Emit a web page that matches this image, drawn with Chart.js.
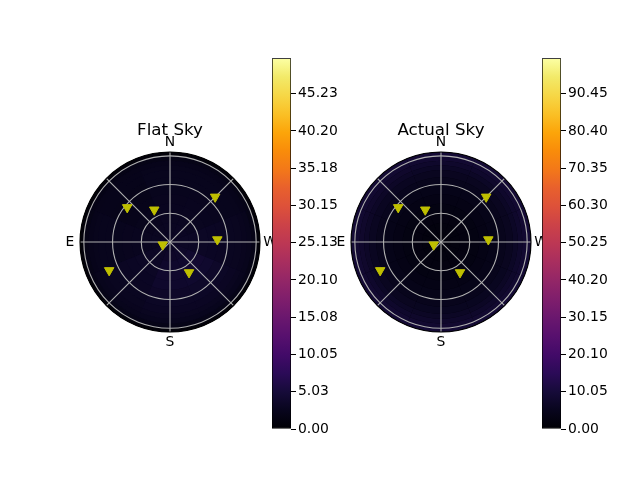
<!DOCTYPE html>
<html>
<head>
<meta charset="utf-8">
<script src="https://cdn.jsdelivr.net/npm/chart.js@4.4.1/dist/chart.umd.min.js"></script>
<style>
  body { margin: 0; background: #fff; }
  #wrap { position: relative; width: 640px; height: 480px; overflow: hidden; background: #fff; }
  canvas { position: absolute; }
</style>
</head>
<body>
<div id="wrap">
  <canvas id="flatSky" width="260" height="250" style="left:40px;top:100px"></canvas>
  <canvas id="actualSky" width="260" height="250" style="left:311px;top:100px"></canvas>
  <canvas id="flatBar" width="79" height="392" style="left:272px;top:48px"></canvas>
  <canvas id="actualBar" width="79" height="392" style="left:542px;top:48px"></canvas>
</div>
<script>
// sky layout: zenith angle rings, compass labels
const zenithMax = 94
const ringTicks = [30, 60, 90]
const compassLabels = ['N', 'E', 'S', 'W']
const compassAz = [0, 90, 180, 270]

// stars (azimuth from N toward E, zenith angle)
const starAz = [51, 26, 315, 273, 110, 115, 212]
const starZenith = [57.5, 37.5, 66.7, 49.5, 8.1, 70.1, 37.5]

// heatmap cells: zenith bin edges x 8 azimuth sectors (N, NE, E, SE, S, SW, W, NW)
const zenithEdges = [0, 10, 20, 30, 40, 50, 60, 67.5, 75, 80, 85, 90, 94]
const sectorAz = [0, 45, 90, 135, 180, 225, 270, 315]
const flatSkyValues = [
  [3.0, 2.9, 3.0, 3.1, 3.2, 3.3, 3.1, 3.0],
  [2.9, 2.8, 2.9, 3.2, 3.5, 3.6, 3.2, 3.0],
  [2.8, 2.6, 2.8, 3.2, 3.8, 4.0, 3.2, 2.9],
  [2.7, 2.4, 2.7, 3.2, 3.9, 4.2, 3.2, 2.8],
  [2.6, 2.2, 2.6, 3.1, 3.8, 4.0, 3.1, 2.7],
  [2.5, 2.1, 2.5, 3.0, 3.5, 3.6, 3.0, 2.6],
  [2.5, 2.1, 2.5, 2.9, 3.2, 3.3, 2.9, 2.5],
  [2.5, 2.2, 2.5, 2.8, 3.0, 3.0, 2.8, 2.5],
  [2.4, 2.2, 2.4, 2.6, 2.8, 2.8, 2.6, 2.4],
  [2.2, 2.1, 2.2, 2.4, 2.5, 2.5, 2.4, 2.2],
  [1.8, 1.7, 1.8, 1.9, 1.9, 1.9, 1.8, 1.8],
  [0.5, 0.5, 0.5, 0.5, 0.5, 0.5, 0.5, 0.5]
]
const actualSkyValues = [
  [1.8, 1.8, 1.8, 1.8, 1.8, 1.8, 1.8, 1.8],
  [2.0, 2.0, 2.0, 2.0, 2.0, 2.0, 2.0, 2.0],
  [2.3, 2.3, 2.3, 2.3, 2.3, 2.3, 2.3, 2.3],
  [2.8, 2.8, 2.8, 2.8, 2.8, 2.8, 2.8, 2.8],
  [3.3, 3.3, 3.3, 3.3, 3.3, 3.3, 3.3, 3.3],
  [4.0, 4.0, 4.0, 4.0, 4.0, 4.0, 4.0, 4.0],
  [4.8, 4.9, 4.8, 4.8, 4.8, 4.8, 4.8, 4.8],
  [5.6, 5.7, 5.7, 5.6, 5.5, 5.5, 5.6, 5.6],
  [6.6, 6.7, 6.7, 6.6, 6.5, 6.5, 6.6, 6.6],
  [7.6, 7.7, 7.7, 7.6, 7.5, 7.5, 7.6, 7.6],
  [8.5, 8.6, 8.6, 8.5, 8.4, 8.4, 8.5, 8.5],
  [9.2, 9.2, 9.2, 9.2, 9.2, 9.2, 9.2, 9.2]
]

// colorbars
const flatMax = 50
const flatTicks = [0, 5.03, 10.05, 15.08, 20.10, 25.13, 30.15, 35.18, 40.20, 45.23]
const actualMax = 100
const actualTicks = [0, 10.05, 20.10, 30.15, 40.20, 50.25, 60.30, 70.35, 80.40, 90.45]

// inferno colormap stops
const inferno = [
  [0.00, '#000004'], [0.05, '#08051d'], [0.10, '#160b39'], [0.15, '#2b0b57'],
  [0.20, '#420a68'], [0.25, '#57106e'], [0.30, '#6a176e'], [0.35, '#7f1e6c'],
  [0.40, '#932667'], [0.45, '#a82e5f'], [0.50, '#bc3754'], [0.55, '#cc4248'],
  [0.60, '#dd513a'], [0.65, '#e8602d'], [0.70, '#f37819'], [0.75, '#f98c0a'],
  [0.80, '#fca50a'], [0.85, '#fac026'], [0.90, '#f6d746'], [0.95, '#f2ea69'],
  [1.00, '#fcffa4']
]

const font = 'DejaVu Sans'

function hexRgb(h) {
  return [parseInt(h.slice(1, 3), 16), parseInt(h.slice(3, 5), 16), parseInt(h.slice(5, 7), 16)]
}

function infernoColor(t) {
  t = Math.max(0, Math.min(1, t))
  for (let i = 1; i < inferno.length; i++) {
    if (t <= inferno[i][0]) {
      const [t0, c0] = inferno[i - 1]
      const [t1, c1] = inferno[i]
      const f = (t - t0) / (t1 - t0)
      const a = hexRgb(c0), b = hexRgb(c1)
      return `rgb(${a.map((v, k) => Math.round(v + (b[k] - v) * f)).join(',')})`
    }
  }
  return inferno[inferno.length - 1][1]
}

// az measured from N counterclockwise (E on the left) -> canvas angle
function canvasAngle(az) {
  return (-90 - az) * Math.PI / 180
}

function skyPlugin(values, max) {
  return {
    id: 'skyMap',
    beforeDatasetsDraw(chart) {
      const { ctx, scales: { x, y } } = chart
      const cx = x.getPixelForValue(0)
      const cy = y.getPixelForValue(0)
      const rad = v => x.getPixelForValue(v) - cx
      ctx.save()
      // base disk so cell seams don't show white
      ctx.beginPath()
      ctx.arc(cx, cy, rad(zenithMax), 0, Math.PI * 2)
      ctx.fillStyle = infernoColor(values[0][0] / max)
      ctx.fill()
      // cells
      values.forEach((row, i) => {
        row.forEach((v, j) => {
          const a0 = canvasAngle(sectorAz[j] - 22.5)
          const a1 = canvasAngle(sectorAz[j] + 22.5)
          const rIn = rad(zenithEdges[i])
          const rOut = rad(zenithEdges[i + 1])
          ctx.beginPath()
          ctx.arc(cx, cy, rOut, a0, a1, true)
          ctx.arc(cx, cy, rIn, a1, a0, false)
          ctx.closePath()
          ctx.fillStyle = infernoColor(v / max)
          ctx.fill()
        })
      })
      // grid
      ctx.strokeStyle = '#b0b0b0'
      ctx.lineWidth = 1.1
      ringTicks.forEach(r => {
        ctx.beginPath()
        ctx.arc(cx, cy, rad(r), 0, Math.PI * 2)
        ctx.stroke()
      })
      for (let az = 0; az < 360; az += 45) {
        const a = canvasAngle(az)
        ctx.beginPath()
        ctx.moveTo(cx, cy)
        ctx.lineTo(cx + rad(zenithMax) * Math.cos(a), cy + rad(zenithMax) * Math.sin(a))
        ctx.stroke()
      }
      // spine
      ctx.strokeStyle = '#000'
      ctx.lineWidth = 1.1
      ctx.beginPath()
      ctx.arc(cx, cy, rad(zenithMax), 0, Math.PI * 2)
      ctx.stroke()
      // compass labels
      ctx.fillStyle = '#000'
      ctx.font = `13.9px "${font}"`
      ctx.textAlign = 'center'
      ctx.textBaseline = 'middle'
      compassLabels.forEach((lab, k) => {
        const a = canvasAngle(compassAz[k])
        const r = rad(zenithMax) + 10
        ctx.fillText(lab, cx + r * Math.cos(a), cy + r * Math.sin(a))
      })
      ctx.restore()
    }
  }
}

function makeSky(id, title, values, max) {
  const stars = starAz.map((az, i) => ({
    x: -starZenith[i] * Math.sin(az * Math.PI / 180),
    y: starZenith[i] * Math.cos(az * Math.PI / 180)
  }))
  new Chart(document.getElementById(id), {
    type: 'scatter',
    data: {
      datasets: [{
        data: stars,
        pointStyle: 'triangle',
        rotation: 180,
        radius: 5.5,
        backgroundColor: '#bfbf00',
        borderColor: '#bfbf00',
        borderWidth: 1
      }]
    },
    options: {
      responsive: false,
      animation: false,
      events: [],
      layout: { padding: { top: 21, left: 40, right: 40, bottom: 18 } },
      plugins: {
        legend: { display: false },
        tooltip: { enabled: false },
        title: {
          display: true,
          text: title,
          color: '#000',
          font: { size: 16.7, family: font, weight: 'normal' },
          padding: { top: 0, bottom: 11 }
        }
      },
      scales: {
        x: { display: false, min: -zenithMax, max: zenithMax },
        y: { display: false, min: -zenithMax, max: zenithMax }
      }
    },
    plugins: [skyPlugin(values, max)]
  })
}

function makeColorbar(id, ticks, max) {
  new Chart(document.getElementById(id), {
    type: 'bar',
    data: {
      labels: [''],
      datasets: [{
        data: [[0, max]],
        backgroundColor: context => {
          const { ctx, chartArea } = context.chart
          if (!chartArea) return '#000'
          const g = ctx.createLinearGradient(0, chartArea.bottom, 0, chartArea.top)
          inferno.forEach(([t, c]) => g.addColorStop(t, c))
          return g
        },
        borderColor: '#000',
        borderWidth: 1,
        borderSkipped: false,
        barPercentage: 1,
        categoryPercentage: 1
      }]
    },
    options: {
      responsive: false,
      animation: false,
      events: [],
      layout: { padding: { top: 10, bottom: 11, left: 0, right: 0 } },
      plugins: { legend: { display: false }, tooltip: { enabled: false } },
      scales: {
        x: { display: false },
        y: {
          position: 'right',
          min: 0,
          max: max,
          afterBuildTicks: scale => { scale.ticks = ticks.map(v => ({ value: v })) },
          afterFit: scale => { scale.width = 60 },
          ticks: {
            callback: v => v.toFixed(2),
            color: '#000',
            font: { size: 13.9, family: font },
            padding: 2
          },
          grid: { drawOnChartArea: false, drawTicks: true, tickLength: 5, color: '#000', lineWidth: 1 },
          border: { display: false }
        }
      }
    }
  })
}

makeSky('flatSky', 'Flat Sky', flatSkyValues, flatMax)
makeSky('actualSky', 'Actual Sky', actualSkyValues, actualMax)
makeColorbar('flatBar', flatTicks, flatMax)
makeColorbar('actualBar', actualTicks, actualMax)
</script>
</body>
</html>
